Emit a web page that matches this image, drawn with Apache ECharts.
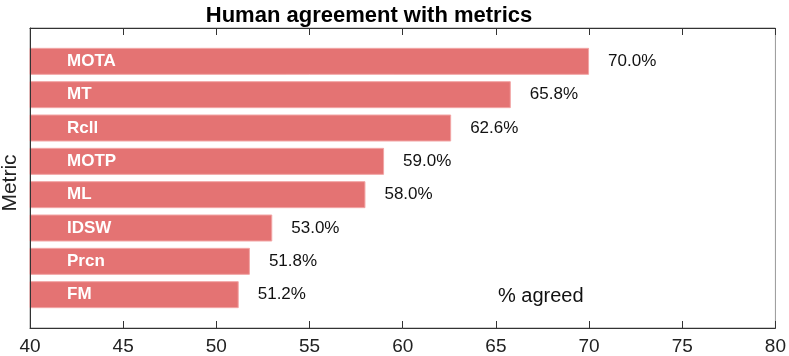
<!DOCTYPE html>
<html>
<head>
<meta charset="utf-8">
<script src="https://cdn.jsdelivr.net/npm/echarts@6/dist/echarts.min.js"></script>
<style>
  html, body { margin: 0; padding: 0; background: #fff; }
  #main { width: 789px; height: 356px; }
</style>
</head>
<body>
<div id="main"></div>
<script>
// metrics from bottom to top, padded with an empty slot at each end
var metrics = ['', 'FM', 'Prcn', 'IDSW', 'ML', 'MOTP', 'Rcll', 'MT', 'MOTA', ''];
var agreed = [null, 51.2, 51.8, 53.0, 58.0, 59.0, 62.6, 65.8, 70.0, null];
var xTicks = [40, 45, 50, 55, 60, 65, 70, 75, 80];

var font = 'Liberation Sans, Arial, Helvetica, sans-serif';
var myChart = echarts.init(document.getElementById('main'));

var option = {
  animation: false,
  textStyle: { fontFamily: font },
  title: {
    text: 'Human agreement with metrics',
    left: 364,
    top: 0,
    textAlign: 'center',
    textStyle: { fontSize: 22, fontWeight: 'bold', color: '#000', fontFamily: font }
  },
  grid: {
    left: 30, top: 28, width: 748, height: 300,
    show: true, borderColor: '#999', borderWidth: 1
  },
  xAxis: [
    {
      type: 'value',
      min: xTicks[0],
      max: xTicks[xTicks.length - 1],
      interval: 5,
      position: 'bottom',
      axisLine: { show: true, lineStyle: { color: '#333' } },
      axisTick: { show: true, inside: true, length: 7, lineStyle: { color: '#333' } },
      axisLabel: { fontSize: 19, color: '#222', margin: 9, fontFamily: font },
      splitLine: { show: false }
    },
    {
      type: 'value',
      min: xTicks[0],
      max: xTicks[xTicks.length - 1],
      interval: 5,
      position: 'top',
      axisLine: { show: true, lineStyle: { color: '#333' } },
      axisTick: { show: true, inside: true, length: 7, lineStyle: { color: '#333' } },
      axisLabel: { show: false },
      splitLine: { show: false }
    }
  ],
  yAxis: {
    type: 'category',
    data: metrics,
    boundaryGap: false,
    z: 10,
    axisLine: { show: true, lineStyle: { color: '#333' } },
    axisTick: { show: false },
    axisLabel: {
      inside: true,
      margin: 37,
      color: '#fff',
      fontWeight: 'bold',
      fontSize: 17,
      fontFamily: font
    },
    splitLine: { show: false }
  },
  graphic: [
    {
      type: 'text',
      x: 10, y: 183,
      rotation: Math.PI / 2,
      style: {
        text: 'Metric', fontSize: 21, fill: '#222', fontFamily: font,
        textAlign: 'center', textVerticalAlign: 'middle'
      }
    },
    {
      type: 'text',
      x: 498, y: 296,
      style: {
        text: '% agreed', fontSize: 20, fill: '#111', fontFamily: font,
        textAlign: 'left', textVerticalAlign: 'middle'
      }
    }
  ],
  series: [
    {
      type: 'bar',
      data: agreed,
      barWidth: 27,
      itemStyle: { color: '#e47373', borderColor: '#f2a5a5', borderWidth: 1 },
      label: {
        show: true,
        position: 'right',
        distance: 19,
        fontSize: 17,
        color: '#111',
        fontFamily: font,
        formatter: function (p) { return p.value.toFixed(1) + '%'; }
      }
    }
  ]
};

myChart.setOption(option);
</script>
</body>
</html>
